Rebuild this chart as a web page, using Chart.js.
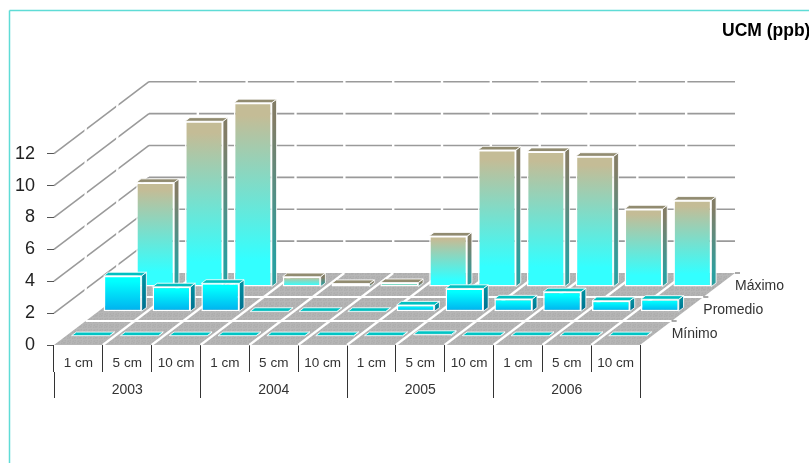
<!DOCTYPE html>
<html>
<head>
<meta charset="utf-8">
<title>UCM (ppb)</title>
<script src="https://cdn.jsdelivr.net/npm/chart.js@4/dist/chart.umd.min.js"></script>
<style>
  html, body { margin: 0; padding: 0; background: #fff; overflow: hidden; }
  canvas { display: block; }
</style>
</head>
<body>
<canvas id="ucmChart" width="809" height="463"></canvas>
<script>
// categories
var depths = ['1 cm','5 cm','10 cm','1 cm','5 cm','10 cm','1 cm','5 cm','10 cm','1 cm','5 cm','10 cm']
var years = ['2003','2004','2005','2006']

// series values, front row first
var rowNames = ['Mínimo','Promedio','Máximo']
var minimo = [0.02,0.02,0.02,0.02,0.02,0.02,0.02,0.1,0.02,0.02,0.02,0.02]
var promedio = [2.25,1.56,1.78,0.02,0.02,0.02,0.42,1.46,0.8,1.25,0.69,0.78]
var maximo = [6.56,10.4,11.56,0.65,0.22,0.28,3.2,8.6,8.5,8.2,4.9,5.45]

// how far the back wall sits behind the front edge of the floor
var wallDx = 95
var wallDy = 72
// where each row of bars stands on the floor, and how deep a bar is (0..1)
var rowPlace = [0.125,0.4625,0.805]
var barDepth = 0.05
var barNudge = 0.3

var font = 'Liberation Sans, Arial, sans-serif'

// grey speckled tile for the floor
function floorPattern(ctx) {
  var tile = document.createElement('canvas')
  tile.width = 16
  tile.height = 16
  var t = tile.getContext('2d')
  var greys = ['#b4b4b4','#b0b0b0','#b2b2b2','#adadad','#b6b6b6']
  for (var x = 0; x < 16; x++) {
    for (var y = 0; y < 16; y++) {
      t.fillStyle = greys[(x * 7 + y * 13 + x * y) % 5]
      t.fillRect(x, y, 1, 1)
    }
  }
  return ctx.createPattern(tile, 'repeat')
}

function line(ctx, x1, y1, x2, y2) {
  ctx.beginPath()
  ctx.moveTo(x1, y1)
  ctx.lineTo(x2, y2)
  ctx.stroke()
}

function polygon(ctx, pts, fill) {
  ctx.beginPath()
  ctx.moveTo(pts[0], pts[1])
  for (var i = 2; i < pts.length; i += 2) ctx.lineTo(pts[i], pts[i + 1])
  ctx.closePath()
  ctx.fillStyle = fill
  ctx.fill()
  ctx.stroke()
}

function vGradient(ctx, top, bottom, stops) {
  var g = ctx.createLinearGradient(0, top, 0, bottom)
  stops.forEach(function (s) { g.addColorStop(s[0], s[1]) })
  return g
}

// colours of one bar: back row goes tan to cyan, the two front rows cyan to blue
function frontStops(row) {
  return row === 2
    ? [[0,'#c4bc96'],[0.07,'#c4bc96'],[0.85,'#33ffff'],[1,'#33ffff']]
    : [[0,'#00ffff'],[0.15,'#00ffff'],[1,'#00aeee']]
}
function sideStops(row) {
  return row === 2
    ? [[0,'#827d66'],[0.1,'#827d66'],[0.85,'#2a9f9f'],[1,'#2a9f9f']]
    : [[0,'#008f9f'],[1,'#006f90']]
}
var topColors = ['#00c4c4','#00c0c0','#918b70']

var depthPlugin = {
  id: 'depthPlugin',

  // frame and title
  beforeDraw: function (chart) {
    var ctx = chart.ctx
    ctx.save()
    ctx.strokeStyle = '#5fdcd6'
    ctx.lineWidth = 1.5
    line(ctx, 9.5, 463, 9.5, 10.5)
    line(ctx, 9.5, 10.5, 809, 10.5)
    ctx.fillStyle = '#000'
    ctx.font = 'bold 17.5px ' + font
    ctx.textBaseline = 'middle'
    ctx.fillText('UCM (ppb)', 722, 31)
    ctx.restore()
  },

  // walls, floor and row labels
  beforeDatasetsDraw: function (chart) {
    var ctx = chart.ctx
    var xs = chart.scales.x
    var ys = chart.scales.y
    var left = xs.left
    var right = xs.right
    var bottom = ys.bottom
    var cell = (right - left) / depths.length
    ctx.save()

    ctx.strokeStyle = '#9a9a9a'
    ctx.lineWidth = 1.6
    ys.ticks.forEach(function (tick) {
      if (tick.value === 0) return
      var y = ys.getPixelForValue(tick.value)
      line(ctx, left, y, left + wallDx, y - wallDy)
      line(ctx, left + wallDx, y - wallDy, right + wallDx, y - wallDy)
    })

    // white cuts between the wall panels
    ctx.strokeStyle = '#fff'
    ctx.lineWidth = 2.4
    for (var i = 1; i < depths.length; i++) {
      var bx = left + wallDx + cell * i
      line(ctx, bx, ys.top - wallDy - 4, bx, bottom - wallDy)
    }
    for (var r = 1; r < rowNames.length; r++) {
      var f = r / rowNames.length
      line(ctx, left + wallDx * f, ys.top - wallDy * f - 4, left + wallDx * f, bottom - wallDy * f)
    }

    // floor
    ctx.beginPath()
    ctx.moveTo(left, bottom)
    ctx.lineTo(right, bottom)
    ctx.lineTo(right + wallDx, bottom - wallDy)
    ctx.lineTo(left + wallDx, bottom - wallDy)
    ctx.closePath()
    ctx.fillStyle = floorPattern(ctx)
    ctx.fill()
    ctx.strokeStyle = '#fff'
    ctx.lineWidth = 2.2
    for (var c = 1; c < depths.length; c++) {
      var cx = left + cell * c
      line(ctx, cx, bottom, cx + wallDx, bottom - wallDy)
    }
    for (var k = 1; k < rowNames.length; k++) {
      var g = k / rowNames.length
      line(ctx, left + wallDx * g, bottom - wallDy * g, right + wallDx * g, bottom - wallDy * g)
    }

    // row axis on the right of the floor
    ctx.font = '14px ' + font
    ctx.textBaseline = 'middle'
    ctx.fillStyle = '#333'
    ctx.strokeStyle = '#555'
    ctx.lineWidth = 1
    rowNames.forEach(function (name, n) {
      var h = (n + 1) / rowNames.length
      var tx = right + wallDx * h
      var ty = bottom - wallDy * h
      line(ctx, tx, ty, tx + 5, ty)
      ctx.fillText(name, tx, ty + 13.5)
    })
    ctx.restore()
  },

  // push the row back, then draw the top and side of each bar under its front face
  beforeDatasetDraw: function (chart, args) {
    var ctx = chart.ctx
    var row = args.index
    var ox = wallDx * rowPlace[row] + barNudge
    var oy = wallDy * rowPlace[row]
    var dx = wallDx * barDepth
    var dy = wallDy * barDepth
    ctx.save()
    ctx.translate(ox, -oy)
    ctx.strokeStyle = 'rgba(255,255,255,0.85)'
    ctx.lineWidth = 1
    args.meta.data.forEach(function (bar) {
      var p = bar.getProps(['x','y','base','width'], true)
      var l = p.x - p.width / 2
      var r = p.x + p.width / 2
      var side = vGradient(ctx, p.y, p.base, sideStops(row))
      polygon(ctx, [r, p.y, r + dx, p.y - dy, r + dx, p.base - dy, r, p.base], side)
      polygon(ctx, [l, p.y, l + dx, p.y - dy, r + dx, p.y - dy, r, p.y], topColors[row])
    })
  },

  afterDatasetDraw: function (chart) {
    chart.ctx.restore()
  }
}

// front face of a bar, from the same value the scale places it with
function frontFace(context) {
  var chart = context.chart
  var scale = chart.scales.y
  if (!scale || !context.parsed) return '#00ffff'
  var top = scale.getPixelForValue(context.parsed.y)
  var bottom = scale.getPixelForValue(0)
  if (!isFinite(top) || !isFinite(bottom)) return '#00ffff'
  return vGradient(chart.ctx, top, bottom, frontStops(context.datasetIndex))
}

function barSeries(label, values) {
  return {
    label: label,
    data: values,
    clip: false,
    backgroundColor: frontFace,
    borderColor: '#fff',
    borderWidth: 1.5,
    borderSkipped: false
  }
}

var ctx = document.getElementById('ucmChart').getContext('2d')

var ucmChart = new Chart(ctx, {
  type: 'bar',
  data: {
    labels: depths,
    datasets: [
      barSeries(rowNames[0], minimo),
      barSeries(rowNames[1], promedio),
      barSeries(rowNames[2], maximo)
    ]
  },
  plugins: [depthPlugin],
  options: {
    responsive: false,
    animation: false,
    events: [],
    grouped: false,
    barPercentage: 0.777,
    categoryPercentage: 1,
    layout: { padding: { left: 0, right: 169, top: 153.7, bottom: 65 } },
    plugins: { legend: { display: false }, title: { display: false }, tooltip: { enabled: false } },
    scales: {
      y: {
        min: 0,
        max: 12,
        afterFit: function (scale) { scale.width = 54 },
        ticks: { stepSize: 2, padding: 12, color: '#222', font: { family: font, size: 18 } },
        border: { display: false },
        grid: { drawOnChartArea: false, tickLength: 7, tickColor: '#555' }
      },
      x: {
        weight: 0,
        afterFit: function (scale) { scale.height = 27 },
        ticks: { autoSkip: false, maxRotation: 0, padding: -17, color: '#333', font: { family: font, size: 13.5 } },
        border: { display: false },
        grid: { drawOnChartArea: false, tickLength: 27, tickColor: '#333' }
      },
      xYear: {
        type: 'category',
        position: 'bottom',
        axis: 'x',
        weight: 1,
        labels: years,
        offset: true,
        afterFit: function (scale) { scale.height = 26 },
        ticks: { autoSkip: false, maxRotation: 0, padding: -16, color: '#333', font: { family: font, size: 14 } },
        border: { display: false },
        grid: { offset: true, drawOnChartArea: false, tickLength: 26, tickColor: '#333' }
      }
    }
  }
})
</script>
</body>
</html>
